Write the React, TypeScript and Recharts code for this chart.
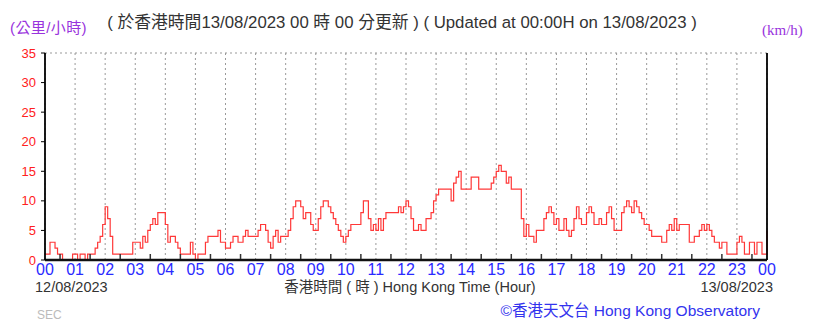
import React from "react";
import { LineChart, Line, XAxis, YAxis, CartesianGrid } from "recharts";

// 5-minute wind speed (km/h), 00:00 12/08 → 00:00 13/08 (12 values per hour)
const h00 = [1, 1, 3, 3, 2, 1, 1, 0, 0, 0, 0, 1];
const h01 = [1, 0, 1, 1, 0, 1, 1, 1, 2, 3, 4, 6];
const h02 = [9, 7, 4, 1, 1, 1, 1, 1, 1, 1, 1, 3];
const h03 = [3, 3, 2, 4, 3, 5, 6, 7, 6, 8, 8, 8];
const h04 = [6, 3, 4, 4, 3, 2, 1, 1, 1, 1, 3, 1];
const h05 = [0, 1, 1, 1, 3, 4, 4, 4, 4, 5, 3, 3];
const h06 = [2, 2, 3, 4, 4, 3, 3, 4, 5, 4, 4, 4];
const h07 = [4, 5, 6, 6, 5, 3, 2, 4, 5, 3, 4, 4];
const h08 = [4, 5, 7, 9, 10, 10, 9, 7, 8, 8, 6, 5];
const h09 = [5, 7, 9, 10, 10, 9, 8, 7, 6, 5, 4, 3];
const h10 = [4, 5, 6, 6, 6, 6, 8, 10, 10, 7, 5, 6];
const h11 = [5, 7, 5, 7, 8, 8, 8, 8, 8, 9, 8, 9];
const h12 = [10, 9, 7, 5, 5, 6, 5, 5, 7, 7, 8, 10];
const h13 = [11, 12, 12, 12, 12, 12, 10, 13, 14, 15, 12, 12];
const h14 = [12, 12, 14, 14, 14, 12, 12, 12, 12, 12, 13, 14];
const h15 = [15, 16, 15, 15, 13, 14, 12, 12, 12, 12, 7, 4];
const h16 = [6, 4, 4, 3, 5, 5, 5, 7, 8, 9, 8, 6];
const h17 = [7, 5, 5, 7, 5, 4, 5, 7, 9, 7, 6, 6];
const h18 = [8, 9, 8, 6, 6, 7, 6, 6, 8, 9, 7, 5];
const h19 = [5, 5, 8, 9, 10, 9, 8, 10, 9, 8, 7, 6];
const h20 = [6, 5, 4, 4, 4, 4, 3, 3, 5, 6, 5, 7];
const h21 = [5, 6, 6, 6, 6, 3, 3, 4, 4, 5, 6, 5];
const h22 = [6, 5, 4, 3, 3, 2, 3, 3, 1, 1, 1, 1];
const h23 = [3, 4, 3, 1, 1, 3, 3, 1, 3, 3, 1, 1];
const endValue = [5];

const speeds = [
  ...h00, ...h01, ...h02, ...h03, ...h04, ...h05, ...h06, ...h07,
  ...h08, ...h09, ...h10, ...h11, ...h12, ...h13, ...h14, ...h15,
  ...h16, ...h17, ...h18, ...h19, ...h20, ...h21, ...h22, ...h23,
  ...endValue,
];

const hourLabels = [
  "00", "01", "02", "03", "04", "05", "06", "07", "08", "09", "10", "11",
  "12", "13", "14", "15", "16", "17", "18", "19", "20", "21", "22", "23", "00",
];
const yTicks = [0, 5, 10, 15, 20, 25, 30, 35];

const titleText = "( 於香港時間13/08/2023 00 時 00 分更新 ) ( Updated at 00:00H on 13/08/2023 )";
const unitZh = "(公里/小時)";
const unitEn = "(km/h)";
const dateStart = "12/08/2023";
const dateEnd = "13/08/2023";
const axisTitle = "香港時間 ( 時 ) Hong Kong Time (Hour)";
const credit = "©香港天文台 Hong Kong Observatory";
const station = "SEC";

const PER_HOUR = 12;
const data = speeds.map((v, i) => ({ t: i, v }));
const hourTicks = hourLabels.map((_, i) => i * PER_HOUR);
const allTicks = hourLabels.flatMap((_, i) =>
  i < hourLabels.length - 1 ? [i * PER_HOUR, i * PER_HOUR + PER_HOUR / 2] : [i * PER_HOUR]
);

const SANS = "'Liberation Sans', 'Noto Sans CJK TC', sans-serif";

const XTick = (props: any) => {
  const { x, y, payload } = props;
  const v = payload.value as number;
  if (v % PER_HOUR === 0) {
    return (
      <text x={x} y={y + 1} dy="0.71em" textAnchor="middle" fill="#2a2aff" fontSize={16} fontFamily={SANS}>
        {hourLabels[v / PER_HOUR]}
      </text>
    );
  }
  return <line x1={x} x2={x} y1={y - 9} y2={y - 4} stroke="#333" strokeWidth={1.5} />;
};

const YTickL = (props: any) => {
  const { x, y, payload } = props;
  return (
    <text x={x - 3} y={y} dy="0.35em" textAnchor="end" fill="#ff2020" fontSize={13} fontFamily={SANS}>
      {payload.value}
    </text>
  );
};

export default function App() {
  return (
    <div style={{ position: "fixed", left: 0, top: 0, width: 819, height: 323, background: "#fff" }}>
      <LineChart
        width={819}
        height={323}
        data={data}
        margin={{ top: 53, right: 22, bottom: 38, left: 0 }}
      >
        <CartesianGrid
          stroke="#999"
          strokeDasharray="2 3"
          verticalValues={hourTicks}
        />
        <XAxis
          dataKey="t"
          type="number"
          domain={[0, 288]}
          ticks={allTicks}
          interval={0}
          height={25}
          tickLine={false}
          tickSize={0}
          tickMargin={3}
          axisLine={{ stroke: "#111", strokeWidth: 2.5 }}
          tick={<XTick />}
        />
        <YAxis
          yAxisId="l"
          domain={[0, 35]}
          ticks={yTicks}
          width={45}
          tickSize={4}
          tickLine={{ stroke: "#000" }}
          axisLine={{ stroke: "#000", strokeWidth: 1.8 }}
          tick={<YTickL />}
          interval={0}
        />
        <YAxis
          yAxisId="r"
          orientation="right"
          domain={[0, 35]}
          ticks={yTicks}
          width={30}
          tickSize={4}
          tickLine={{ stroke: "#000" }}
          axisLine={{ stroke: "#000", strokeWidth: 1.8 }}
          tick={{ fill: "#ff2020", fontSize: 13, fontFamily: SANS }}
          interval={0}
        />
        <Line
          yAxisId="l"
          type="stepAfter"
          dataKey="v"
          stroke="#ff3838"
          strokeWidth={1.2}
          dot={false}
          isAnimationActive={false}
        />
      </LineChart>
      <svg
        width={819}
        height={323}
        style={{ position: "absolute", left: 0, top: 0, pointerEvents: "none" }}
      >
        <text x={402} y={28} textAnchor="middle" fontSize={16.8} fill="#333" fontFamily={SANS}>
          {titleText}
        </text>
        <text x={10} y={33} fontSize={15} letterSpacing={0.4} fill="#9933dd" fontFamily={SANS}>
          {unitZh}
        </text>
        <text x={762} y={35} fontSize={15} fill="#9933dd" fontFamily="'Liberation Serif', serif">
          {unitEn}
        </text>
        <text x={35} y={292} fontSize={14.5} fill="#333" fontFamily={SANS}>
          {dateStart}
        </text>
        <text x={410} y={292} textAnchor="middle" fontSize={14.5} fill="#333" fontFamily={SANS}>
          {axisTitle}
        </text>
        <text x={773} y={292} textAnchor="end" fontSize={14.5} fill="#333" fontFamily={SANS}>
          {dateEnd}
        </text>
        <text x={760} y={316} textAnchor="end" fontSize={15.5} fill="#3333ee" fontFamily={SANS}>
          {credit}
        </text>
        <text x={37} y={319} fontSize={12} fill="#bbb" fontFamily={SANS}>
          {station}
        </text>
      </svg>
    </div>
  );
}
